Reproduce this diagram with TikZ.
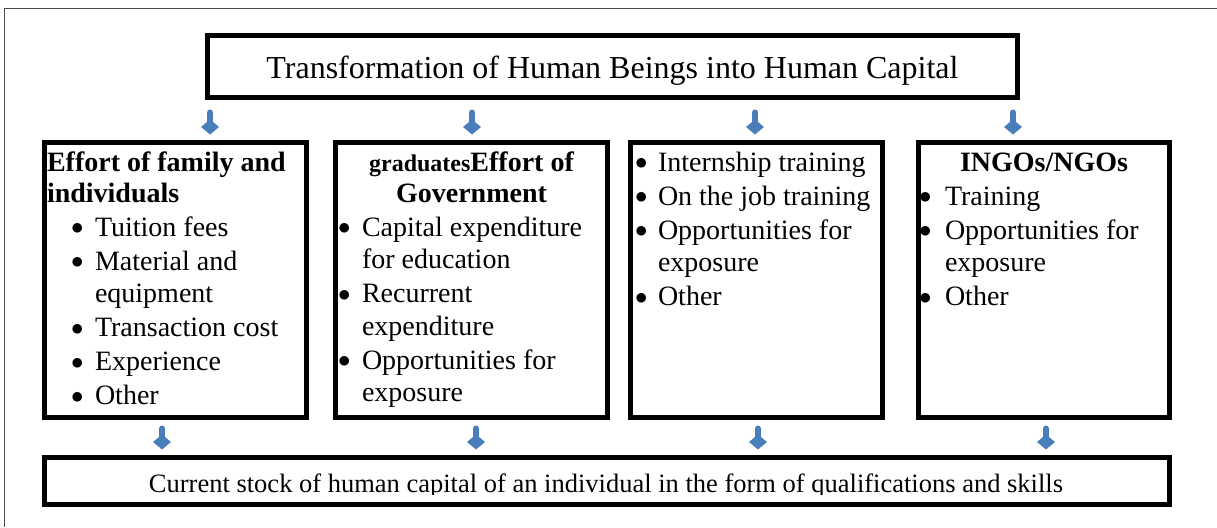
\documentclass[tikz,border=0pt]{standalone}
\usepackage{fontspec}
\setmainfont{Liberation Serif}
\usetikzlibrary{arrows.meta}
\definecolor{flowblue}{RGB}{74,126,187}
\newlength\bulin
\newlength\bulat
\newcommand\bul[1]{\par\hangindent=\bulin\hangafter=1\noindent\hbox to\bulin{\hskip\bulat\raisebox{1.5pt}{\fontsize{42}{42}\selectfont$\bullet$}\hss}#1}
\newcommand\firstline{\rule{0pt}{26pt}}

\begin{document}
\begin{tikzpicture}[x=1pt,y=-1pt,
	box/.style={draw=black,line width=5pt,inner sep=2.5pt},
	body/.style={font=\fontsize{28}{32.5}\selectfont},
	flow/.style={draw=flowblue,line width=6pt,line cap=round,-{Diamond[length=15pt,width=18pt,line width=0pt]},shorten <=12.5pt,shorten >=5.5pt}]
	\useasboundingbox (0,0) rectangle (1217,527);
	\draw[line width=1pt,draw=black!70] (1217,9) -- (4,9) -- (4,527);
	\node[box,minimum width=810pt,minimum height=62pt,font=\fontsize{32}{38}\selectfont,text height=26pt,text depth=3pt] (top) at (612.5,66.5) {Transformation of Human Beings into Human Capital};
	\node[box,body] (fam) at (175.5,280) {\parbox[c][270pt][t]{257pt}{\raggedright\setlength\bulin{48pt}\setlength\bulat{24pt}%
		{\bfseries\baselineskip=31pt\firstline Effort of family and\\individuals\par}
		\parskip=1.5pt
		\bul{Tuition fees}\bul{Material and equipment}\bul{Transaction cost}\bul{Experience}\bul{Other}}};
	\node[box,body] (gov) at (471.5,280) {\parbox[c][270pt][t]{267pt}{\raggedright\setlength\bulin{24pt}\setlength\bulat{0pt}%
		{\centering\bfseries\baselineskip=31pt\firstline{\fontsize{24}{31}\selectfont graduates}Effort of\\Government\par}
		\parskip=1.5pt
		\bul{Capital expenditure for education}\bul{Recurrent expenditure}\bul{Opportunities for exposure}}};
	\node[box,body] (job) at (756.5,280) {\parbox[c][270pt][t]{247pt}{\raggedright\setlength\bulin{25pt}\setlength\bulat{2pt}%
		\parskip=1.5pt
		\bul{\firstline Internship training}\bul{On the job training}\bul{Opportunities for exposure}\bul{Other}}};
	\node[box,body] (ngo) at (1044,280) {\parbox[c][270pt][t]{246pt}{\raggedright\setlength\bulin{24pt}\setlength\bulat{-2pt}%
		{\centering\bfseries\firstline INGOs/NGOs\par}
		\parskip=1.5pt
		\bul{Training}\bul{Opportunities for exposure}\bul{Other}}};
	\node[box,minimum width=1125pt,minimum height=47pt] (stock) at (607,481) {};
	\begin{scope}
		\clip (47,459.5) rectangle (1167,494.5);
		\node[font=\fontsize{26.5}{30}\selectfont,anchor=base] (stocktext) at (606,492) {Current stock of human capital of an individual in the form of qualifications and skills};
	\end{scope}
	\foreach \x/\b in {210/fam,472/gov,755/job,1013/ngo}
		\draw[flow] (top.south -| \x,0) -- (\b.north -| \x,0);
	\foreach \x/\b in {162/fam,476/gov,758/job,1046/ngo}
		\draw[flow,shorten <=8.5pt] (\b.south -| \x,0) -- (stock.north -| \x,0);
\end{tikzpicture}
\end{document}
